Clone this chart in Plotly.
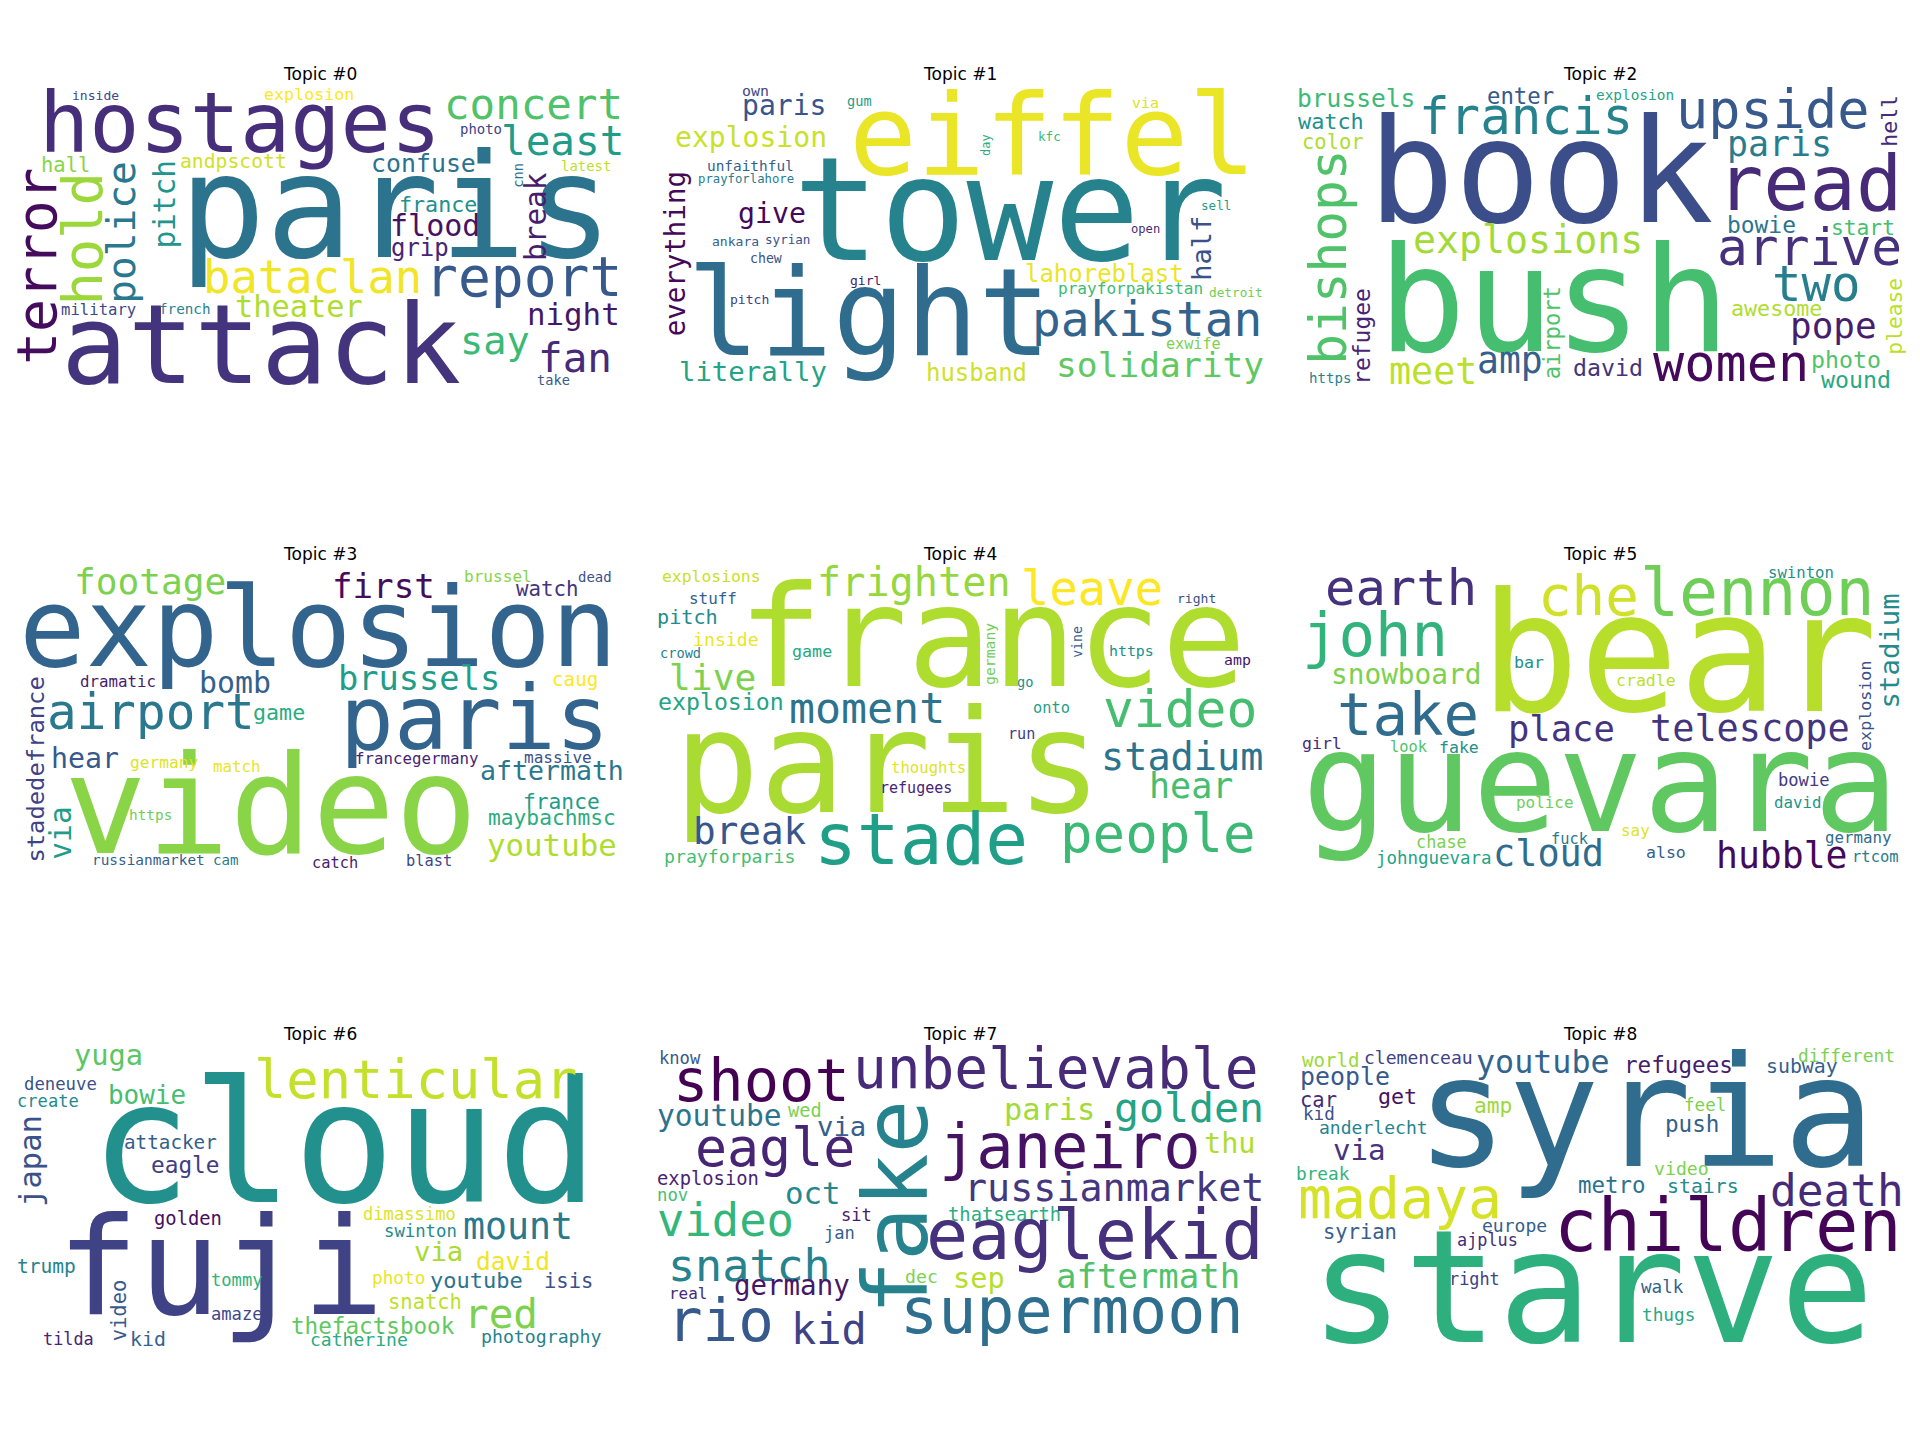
import plotly.graph_objects as go
from plotly.colors import sample_colorscale

# word clouds on a 400 x 200 canvas (wordcloud defaults)
# each row: word, centre x, centre y, font size (canvas px), viridis shade, vertical
TOPIC_0 = [
    ("hostages", 147, 27, 55, 0.13, 0), ("paris", 250, 82, 95, 0.38, 0),
    ("attack", 161, 172, 73, 0.15, 0), ("concert", 341, 14, 28, 0.72, 0),
    ("least", 360, 38, 27, 0.55, 0), ("terror", 13, 121, 36, 0.03, 1),
    ("hold", 44, 103, 36.5, 0.85, 1), ("police", 69, 98.5, 26, 0.40, 1),
    ("pitch", 98, 80, 19.4, 0.52, 1), ("hall", 32, 54, 13.5, 0.82, 0),
    ("andpscott", 143, 52, 13, 0.93, 0), ("inside", 52, 8, 8.6, 0.22, 0),
    ("explosion", 193, 7.5, 11, 1.0, 0), ("photo", 306, 30, 9.2, 0.20, 0),
    ("confuse", 268, 53, 16.4, 0.38, 0), ("latest", 375, 55, 9.2, 0.90, 0),
    ("cnn", 330, 61, 9.1, 0.38, 1), ("break", 342, 88, 19.4, 0.08, 1),
    ("france", 278, 80, 14.3, 0.50, 0), ("flood", 276, 94, 19.8, 0.05, 0),
    ("grip", 266, 109, 15.8, 0.10, 0), ("bataclan", 195, 128, 30, 0.98, 0),
    ("report", 334, 128, 36, 0.28, 0), ("theater", 186, 147, 20, 0.88, 0),
    ("military", 54, 149, 10.3, 0.22, 0), ("french", 111, 149, 9.4, 0.45, 0),
    ("night", 367, 152, 20.3, 0.06, 0), ("say", 315, 170, 25.5, 0.68, 0),
    ("fan", 368, 181.5, 27, 0.12, 0), ("take", 354, 196, 9, 0.28, 0),
]

TOPIC_1 = [
    ("eiffel", 261, 34.5, 74.3, 0.97, 0), ("tower", 233, 84, 95, 0.45, 0),
    ("light", 140, 152, 79.7, 0.35, 0), ("paris", 84, 15, 18.5, 0.27, 0),
    ("explosion", 62, 36, 18.5, 0.92, 0), ("own", 65, 5, 9.8, 0.22, 0),
    ("gum", 134, 12, 9, 0.55, 0), ("via", 322, 13, 9.8, 0.95, 0),
    ("kfc", 259, 35, 8.3, 0.68, 0), ("day", 217, 41, 7.9, 0.62, 1),
    ("unfaithful", 62, 54.6, 9.5, 0.30, 0), ("prayforlahore", 59, 63, 8.1, 0.42, 0),
    ("everything", 12.6, 112.5, 18.1, 0.02, 1), ("give", 76, 86, 18.6, 0.02, 0),
    ("ankara", 52, 104.7, 8.6, 0.30, 0), ("syrian", 86.5, 103, 8.3, 0.25, 0),
    ("chew", 72, 115.6, 8.7, 0.25, 0), ("pitch", 61, 142.4, 8.6, 0.20, 0),
    ("girl", 138, 130, 8.6, 0.08, 0), ("literally", 63.5, 190, 18, 0.58, 0),
    ("husband", 211, 191, 15.8, 0.93, 0), ("half", 359, 109, 17.8, 0.25, 1),
    ("sell", 369, 81, 8.3, 0.55, 0), ("open", 322, 96, 8, 0.12, 0),
    ("lahoreblast", 295, 126, 15.8, 0.97, 0), ("prayforpakistan", 312.5, 135.3, 10.6, 0.68, 0),
    ("detroit", 382, 138.3, 8.4, 0.78, 0), ("pakistan", 323, 156, 31.5, 0.32, 0),
    ("exwife", 354, 172, 10, 0.80, 0), ("solidarity", 332, 186, 22.8, 0.75, 0),
]

TOPIC_2 = [
    ("book", 161, 59, 94.6, 0.24, 0), ("bush", 169.5, 143, 96.3, 0.70, 0),
    ("francis", 151, 22, 33.5, 0.45, 0), ("upside", 313.5, 17.5, 35.3, 0.28, 0),
    ("brussels", 39.5, 10, 16.2, 0.68, 0), ("enter", 147.6, 8.3, 14.7, 0.28, 0),
    ("explosion", 223, 8, 9.5, 0.58, 0), ("watch", 23, 25.5, 14.4, 0.50, 0),
    ("color", 24.3, 39, 13.5, 0.88, 0), ("hell", 391, 25, 14.2, 0.12, 1),
    ("paris", 318, 40.4, 23, 0.42, 0), ("read", 338, 66, 50.7, 0.12, 0),
    ("bishops", 20.6, 114.7, 33.7, 0.72, 1), ("explosions", 152.7, 103.3, 25.2, 0.86, 0),
    ("bowie", 306.5, 93.6, 15.1, 0.38, 0), ("start", 373.6, 95, 14, 0.70, 0),
    ("arrive", 338, 108, 33.8, 0.14, 0), ("two", 342.5, 132.6, 32.3, 0.43, 0),
    ("awesome", 316, 148.7, 14.3, 0.88, 0), ("pope", 354, 159.7, 23.7, 0.08, 0),
    ("please", 394, 153.7, 14, 0.90, 1), ("refugee", 43.4, 167, 15.1, 0.10, 1),
    ("https", 22.4, 194.3, 9.3, 0.45, 0), ("meet", 89.7, 190, 24.2, 0.90, 0),
    ("amp", 140.6, 182.6, 24, 0.30, 0), ("airport", 168, 164.7, 14.6, 0.72, 1),
    ("david", 205.4, 187.8, 15.3, 0.15, 0), ("women", 286.5, 184.5, 34.2, 0.02, 0),
    ("photo", 362, 182.3, 15.3, 0.72, 0), ("wound", 368.4, 195.5, 15.3, 0.60, 0),
]

TOPIC_3 = [
    ("explosion", 199, 42.7, 72.8, 0.32, 0), ("paris", 302, 102.4, 59, 0.32, 0),
    ("video", 168, 159.3, 90.6, 0.82, 0), ("footage", 88, 12, 23.8, 0.80, 0),
    ("first", 242, 15.3, 22.5, 0.03, 0), ("brussel", 317, 9.2, 10.6, 0.82, 0),
    ("dead", 381, 9, 9.2, 0.25, 0), ("watch", 350, 17.3, 13.7, 0.15, 0),
    ("dramatic", 67, 77.8, 10.4, 0.08, 0), ("bomb", 144, 78.8, 19.7, 0.30, 0),
    ("brussels", 265, 75.8, 22.2, 0.55, 0), ("caug", 368, 77, 12.7, 1.0, 0),
    ("airport", 88.4, 98.5, 32.5, 0.40, 0), ("game", 173, 98.3, 14.3, 0.62, 0),
    ("stadedefrance", 13, 136, 15.7, 0.20, 1), ("via", 29.7, 178, 19.5, 0.55, 1),
    ("hear", 45, 129, 18.6, 0.28, 0), ("germany", 97.6, 131.4, 10.7, 0.95, 0),
    ("match", 145, 134.3, 10.4, 0.97, 0), ("francegermany", 263.5, 129, 10.4, 0.10, 0),
    ("massive", 357, 128, 10.6, 0.25, 0), ("aftermath", 352.7, 136.7, 17.5, 0.40, 0),
    ("france", 359, 157, 14, 0.55, 0), ("maybachmsc", 352.7, 168, 14, 0.62, 0),
    ("youtube", 353, 186, 20.3, 0.88, 0), ("https", 88.4, 165.8, 9.5, 0.78, 0),
    ("russianmarket", 87, 195.4, 9.5, 0.30, 0), ("cam", 137.6, 196, 9.3, 0.42, 0),
    ("catch", 210, 197.4, 10.1, 0.08, 0), ("blast", 272, 196.3, 10.1, 0.22, 0),
]

TOPIC_4 = [
    ("france", 221, 49, 92.7, 0.88, 0), ("paris", 152.7, 132, 93.7, 0.87, 0),
    ("frighten", 170, 12.4, 26.5, 0.84, 0), ("leave", 287, 16.7, 31.1, 1.0, 0),
    ("explosions", 36.5, 9.2, 10.8, 0.92, 0), ("stuff", 37, 23.3, 10.5, 0.30, 0),
    ("pitch", 20.5, 35.5, 13.3, 0.48, 0), ("inside", 46, 50.4, 12, 0.97, 0),
    ("crowd", 15.7, 59, 9, 0.45, 0), ("live", 37, 75.2, 23.9, 0.80, 0),
    ("explosion", 42.4, 91.3, 15.3, 0.58, 0), ("moment", 139, 95.5, 28.5, 0.38, 0),
    ("game", 102.4, 58.2, 11, 0.60, 0), ("germany", 219, 60, 9.7, 0.78, 1),
    ("go", 242.7, 78.2, 9, 0.50, 0), ("vine", 277.5, 52.2, 8.7, 0.30, 1),
    ("https", 312.7, 58.2, 9.8, 0.50, 0), ("right", 356, 23.5, 8.6, 0.25, 0),
    ("amp", 383, 63.7, 9.8, 0.06, 0), ("onto", 260.3, 95.4, 10.1, 0.55, 0),
    ("video", 345, 96, 33.8, 0.70, 0), ("run", 240.8, 113, 10, 0.20, 0),
    ("stadium", 346.5, 127.3, 25.4, 0.38, 0), ("hear", 352, 146.7, 23.1, 0.70, 0),
    ("thoughts", 179, 134.8, 10.3, 0.95, 0), ("refugees", 171, 148.5, 9.9, 0.10, 0),
    ("break", 61.4, 176.8, 24.8, 0.27, 0), ("prayforparis", 48, 193.4, 12, 0.70, 0),
    ("stade", 174.3, 182.3, 46.9, 0.56, 0), ("people", 330.3, 178.5, 35.7, 0.68, 0),
]

TOPIC_5 = [
    ("bear", 252, 59.8, 108.7, 0.89, 0), ("guevara", 200, 144, 93.3, 0.75, 0),
    ("earth", 69, 16, 33.3, 0.14, 0), ("che", 192.5, 21.3, 36.8, 0.93, 0),
    ("lennon", 304, 19.2, 42.8, 0.78, 0), ("swinton", 332.5, 6.5, 10.3, 0.50, 0),
    ("john", 52, 47.6, 40, 0.65, 0), ("snowboard", 72, 73.2, 18.3, 0.80, 0),
    ("take", 73.5, 99.6, 38.9, 0.35, 0), ("bar", 153.5, 65.5, 11, 0.50, 0),
    ("cradle", 230, 77.6, 10.9, 0.90, 0), ("stadium", 391, 57.7, 18, 0.48, 1),
    ("explosion", 375, 94.5, 11, 0.25, 1), ("place", 174.3, 109.3, 23.4, 0.15, 0),
    ("telescope", 299, 109, 24.3, 0.15, 0), ("girl", 17, 118.8, 10.9, 0.12, 0),
    ("look", 74, 121.3, 10.1, 0.72, 0), ("fake", 107, 121.4, 10.9, 0.50, 0),
    ("bowie", 334.4, 143.2, 11.3, 0.18, 0), ("david", 330.3, 157.8, 10.4, 0.52, 0),
    ("police", 163.5, 157.7, 10.5, 0.78, 0), ("say", 223.5, 176, 10.5, 0.95, 0),
    ("chase", 95.4, 183.8, 11.1, 0.80, 0), ("fuck", 179.7, 182, 10.1, 0.40, 0),
    ("germany", 370, 180.8, 10.4, 0.35, 0), ("johnguevara", 90.6, 194.7, 11.5, 0.58, 0),
    ("cloud", 166, 191.3, 24.3, 0.35, 0), ("also", 243.5, 190.5, 10.9, 0.30, 0),
    ("hubble", 320, 192.5, 24, 0.02, 0), ("rtcom", 381.4, 194, 10.2, 0.42, 0),
]

TOPIC_6 = [
    ("cloud", 216, 66.5, 111.3, 0.50, 0), ("fuji", 134.3, 147.6, 89.5, 0.20, 0),
    ("lenticular", 262.7, 24, 35.4, 0.91, 0), ("yuga", 60.5, 7.9, 18.9, 0.74, 0),
    ("deneuve", 28.7, 27, 11.4, 0.25, 0), ("create", 20.8, 38, 11.3, 0.48, 0),
    ("bowie", 85.7, 34, 17.1, 0.70, 0), ("japan", 9.2, 77.4, 20.1, 0.25, 1),
    ("attacker", 101.4, 65.5, 12.7, 0.30, 0), ("eagle", 111, 80.5, 15, 0.18, 0),
    ("golden", 112.7, 115.4, 12.4, 0.04, 0), ("dimassimo", 258.7, 113, 11.3, 0.95, 0),
    ("swinton", 266.5, 124, 11.4, 0.48, 0), ("mount", 330.8, 120.8, 24.1, 0.40, 0),
    ("via", 278.4, 137.6, 18, 0.87, 0), ("david", 327, 144, 16.2, 0.98, 0),
    ("trump", 19.7, 147, 12.9, 0.45, 0), ("tommy", 145.2, 156.3, 11.3, 0.65, 0),
    ("photo", 251.4, 155, 11.7, 0.97, 0), ("youtube", 303.3, 156.3, 14.5, 0.38, 0),
    ("isis", 363.6, 156.7, 13.5, 0.25, 0), ("video", 67.7, 176, 13.5, 0.28, 1),
    ("amaze", 145.2, 178.3, 11.3, 0.22, 0), ("snatch", 269, 171, 13.5, 0.90, 0),
    ("red", 319, 178.3, 27, 0.80, 0), ("thefactsbook", 235, 186.2, 14.9, 0.75, 0),
    ("tilda", 34, 194.8, 11.1, 0.10, 0), ("kid", 86.8, 195.2, 13.1, 0.32, 0),
    ("catherine", 226, 195.6, 11.9, 0.62, 0), ("photography", 345.4, 193.4, 12, 0.45, 0),
]

TOPIC_7 = [
    ("fake", 157.8, 108, 58.9, 0.45, 1), ("unbelievable", 262.7, 17, 37, 0.12, 0),
    ("shoot", 69, 25, 38.7, 0.0, 0), ("know", 15.7, 9.8, 11.3, 0.28, 0),
    ("youtube", 41.4, 48.2, 19.5, 0.38, 0), ("wed", 97.6, 44.2, 12.3, 0.80, 0),
    ("via", 121.6, 55.3, 18, 0.30, 0), ("paris", 259.2, 43.7, 20, 0.86, 0),
    ("golden", 350.6, 42.2, 27.4, 0.58, 0), ("eagle", 78.4, 69, 35.1, 0.10, 0),
    ("janeiro", 272.2, 68.2, 40.9, 0.05, 0), ("thu", 377.6, 66.4, 18.8, 0.88, 0),
    ("explosion", 34, 89, 12.4, 0.10, 0), ("nov", 10.8, 100.4, 11.4, 0.70, 0),
    ("oct", 103.3, 98.8, 20.3, 0.47, 0), ("russianmarket", 301.4, 95.5, 25.3, 0.16, 0),
    ("video", 45.4, 117, 30, 0.66, 0), ("sit", 131.6, 113.5, 11.3, 0.08, 0),
    ("jan", 120.8, 125.2, 11.3, 0.30, 0), ("thatsearth", 229, 112.8, 12.4, 0.62, 0),
    ("eaglekid", 289.2, 126.6, 46.2, 0.14, 0), ("snatch", 61.4, 146.6, 29.7, 0.45, 0),
    ("dec", 174.3, 154, 12, 0.80, 0), ("sep", 212.2, 154.8, 18.9, 0.89, 0),
    ("aftermath", 323.8, 153.6, 22.4, 0.72, 0), ("real", 21, 165.4, 10.5, 0.12, 0),
    ("germany", 89, 159.5, 18.1, 0.06, 0), ("rio", 42, 183, 39, 0.28, 0),
    ("kid", 113.5, 189, 27.6, 0.20, 0), ("supermoon", 273.5, 176.4, 41.8, 0.36, 0),
]

TOPIC_8 = [
    ("syria", 230.3, 46.2, 100.5, 0.35, 0), ("starve", 194.6, 161.6, 102.9, 0.63, 0),
    ("children", 284.4, 120.6, 47.6, 0.01, 0), ("madaya", 68, 102.4, 37.2, 0.94, 0),
    ("death", 356, 97.4, 29.3, 0.12, 0), ("youtube", 162.7, 12.2, 20.9, 0.32, 0),
    ("world", 23, 11.6, 12.6, 0.85, 0), ("clemenceau", 80.3, 9.6, 11.9, 0.20, 0),
    ("people", 32.2, 21.9, 16.4, 0.28, 0), ("refugees", 252, 14.8, 14.9, 0.08, 0),
    ("different", 362.7, 8.2, 11.8, 0.80, 0), ("subway", 333, 15.8, 13.1, 0.30, 0),
    ("car", 14.3, 37.6, 13.5, 0.12, 0), ("get", 66.8, 35.1, 14.3, 0.05, 0),
    ("kid", 15.1, 47, 11.6, 0.25, 0), ("amp", 129.2, 41.4, 14, 0.85, 0),
    ("feel", 269.2, 41.1, 11.6, 0.80, 0), ("anderlecht", 50.5, 55.7, 11.9, 0.45, 0),
    ("push", 260.6, 53.1, 14.9, 0.30, 0), ("via", 41.6, 70.3, 19.2, 0.15, 0),
    ("break", 17.6, 86, 11.7, 0.65, 0), ("video", 253.5, 82.6, 12, 0.80, 0),
    ("metro", 208, 93.3, 14.8, 0.38, 0), ("stairs", 268, 94.3, 13.1, 0.48, 0),
    ("syrian", 42, 124.5, 13.5, 0.30, 0), ("europe", 143.5, 120, 11.9, 0.30, 0),
    ("ajplus", 126, 130, 11.1, 0.12, 0), ("right", 117, 155.3, 11.1, 0.20, 0),
    ("walk", 241.4, 160.6, 11.6, 0.30, 0), ("thugs", 245.2, 179.2, 11.7, 0.60, 0),
]

TOPICS = [TOPIC_0, TOPIC_1, TOPIC_2, TOPIC_3, TOPIC_4, TOPIC_5, TOPIC_6, TOPIC_7, TOPIC_8]

# the page body keeps its 8px margin, so the figure is drawn 16px smaller
W, H = 1904, 1424
CANVAS_W, CANVAS_H = 400, 200
img_w = 607.0                      # on-screen width of one cloud, px
img_h = img_w * CANVAS_H / CANVAS_W
scale = img_w / CANVAS_W           # screen px per canvas px

fig = go.Figure()
annotations = []
for i, words in enumerate(TOPICS):
    row, col = divmod(i, 3)
    n = i + 1
    sfx = '' if n == 1 else str(n)
    left = 8.5 + 640 * col
    top = 75 + 480 * row
    fig.update_layout({
        'xaxis' + sfx: dict(domain=[left / W, (left + img_w) / W], range=[0, CANVAS_W],
                            visible=False, fixedrange=True, anchor='y' + sfx),
        'yaxis' + sfx: dict(domain=[1 - (top + img_h) / H, 1 - top / H], range=[CANVAS_H, 0],
                            visible=False, fixedrange=True, anchor='x' + sfx),
    })
    fig.add_trace(go.Scatter(x=[None], y=[None], xaxis='x' + sfx, yaxis='y' + sfx,
                             mode='markers', showlegend=False, hoverinfo='skip'))
    colors = sample_colorscale('Viridis', [w[4] for w in words])
    for (word, x, y, size, shade, vert), color in zip(words, colors):
        annotations.append(dict(
            x=x, y=y, xref='x' + sfx, yref='y' + sfx, text=word, showarrow=False,
            textangle=-90 if vert else 0, xanchor='center', yanchor='middle',
            font=dict(family='DejaVu Sans Mono', size=size * scale, color=color)))
    annotations.append(dict(
        x=(left + img_w / 2) / W, y=1 - (65.5 + 480 * row) / H, xref='paper', yref='paper',
        text='Topic #%d' % i, showarrow=False, xanchor='center', yanchor='middle',
        font=dict(family='DejaVu Sans', size=17, color='black')))

fig.update_layout(
    width=W, height=H,
    margin=dict(l=0, r=0, t=0, b=0),
    paper_bgcolor='white', plot_bgcolor='white',
    showlegend=False,
    annotations=annotations,
)
fig.write_html("out.html")
